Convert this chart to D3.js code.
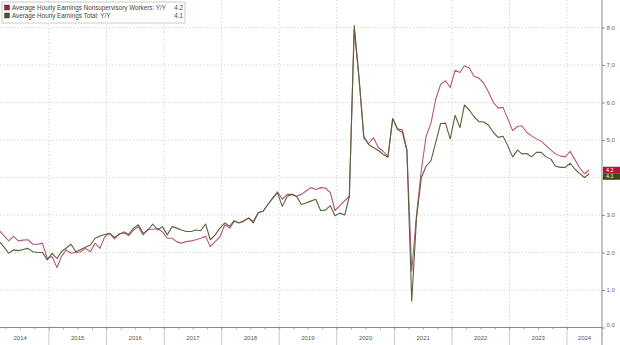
<!DOCTYPE html>
<html>
<head>
<meta charset="utf-8">
<script src="https://cdn.jsdelivr.net/npm/d3@7"></script>
<style>
  body { margin: 0; background: #fff; }
  svg { display: block; }
  text { font-family: "Liberation Sans", Arial, sans-serif; }
</style>
</head>
<body>
<div class="chart"></div>
<script>
// monthly Y/Y %, first value is Feb 2014, last is May 2024
const firstYear = 2014, firstMonth = 1;
const nonsupervisory = [
  2.58, 2.45, 2.31, 2.43, 2.31, 2.33, 2.34, 2.22, 2.22, 2.25, 1.84,
  1.89, 1.60, 1.89, 2.07, 1.98, 2.00, 2.02, 2.11, 2.02, 2.25, 2.11, 2.42,
  2.51, 2.36, 2.50, 2.52, 2.45, 2.60, 2.69, 2.47, 2.62, 2.62, 2.64, 2.55,
  2.38, 2.38, 2.29, 2.25, 2.29, 2.31, 2.34, 2.38, 2.43, 2.16, 2.29, 2.42,
  2.74, 2.65, 2.83, 2.79, 2.83, 2.92, 2.83, 3.06, 3.10, 3.28, 3.44, 3.62,
  3.42, 3.55, 3.55, 3.50, 3.55, 3.64, 3.73, 3.68, 3.73, 3.72, 3.60, 3.12,
  3.25, 3.38, 3.50, 7.95, 6.65, 5.05, 4.90, 5.06, 4.80, 4.70, 4.56, 5.57,
  5.30, 5.27, 4.75, 1.50, 3.00, 4.20, 5.10, 5.45, 6.10, 6.48, 6.58, 6.40,
  6.86, 6.80, 6.98, 6.92, 6.70, 6.65, 6.52, 6.28, 6.00, 5.85, 5.87, 5.57,
  5.25, 5.36, 5.38, 5.20, 5.11, 5.03, 4.97, 4.85, 4.73, 4.63, 4.57, 4.55,
  4.70, 4.47, 4.26, 4.10, 4.20
];
const total = [
  2.29, 2.15, 1.98, 2.07, 2.05, 2.08, 2.11, 2.02, 2.00, 2.00, 1.80,
  1.98, 1.84, 2.02, 2.12, 2.22, 2.02, 2.08, 2.14, 2.20, 2.38, 2.44, 2.48,
  2.51, 2.40, 2.48, 2.55, 2.48, 2.65, 2.74, 2.51, 2.60, 2.76, 2.60, 2.69,
  2.47, 2.69, 2.65, 2.60, 2.56, 2.56, 2.60, 2.58, 2.76, 2.34, 2.47, 2.65,
  2.79, 2.70, 2.85, 2.79, 2.85, 2.92, 2.79, 3.06, 3.10, 3.28, 3.46, 3.59,
  3.23, 3.50, 3.55, 3.50, 3.28, 3.32, 3.37, 3.42, 3.12, 3.13, 3.25, 2.98,
  3.05, 3.00, 3.50, 8.05, 6.70, 5.10, 4.88, 4.80, 4.72, 4.62, 4.54, 5.57,
  5.28, 5.20, 4.72, 0.70, 2.90, 4.00, 4.30, 4.45, 4.95, 5.44, 5.45, 5.03,
  5.66, 5.33, 5.93, 5.80, 5.62, 5.49, 5.48, 5.40, 5.20, 5.07, 5.10, 4.85,
  4.55, 4.73, 4.63, 4.64, 4.55, 4.67, 4.67, 4.55, 4.49, 4.30, 4.27, 4.27,
  4.38, 4.22, 4.11, 4.00, 4.10
];
const seriesNames = [
  'Average Hourly Earnings Nonsupervisory Workers: Y/Y',
  'Average Hourly Earnings Total: Y/Y'
];
const lastLabels = ['4.2', '4.1'];
const yTicks = [0, 1, 2, 3, 4, 5, 6, 7, 8];
const yearLabels = [2014, 2015, 2016, 2017, 2018, 2019, 2020, 2021, 2022, 2023, 2024];

const width = 620, height = 345;
const plotRight = 602, baseY = 327.5;
const red = '#b9567c', green = '#56653a';

const svg = d3.select('.chart')
  .append('svg')
  .attr('width', width)
  .attr('height', height);

const x = d3.scaleTime()
  .domain([new Date(2014, 0, 1), new Date(2024, 0, 1)])
  .range([-8.6, 567]);
const y = d3.scaleLinear()
  .domain([0, baseY / 37.5])
  .range([baseY, 0]);

const dateOf = i => new Date(firstYear, firstMonth + i, 21);

svg.append('defs').append('clipPath').attr('id', 'plot')
  .append('rect').attr('x', 0).attr('y', 0).attr('width', plotRight).attr('height', baseY);

// horizontal grid
svg.append('g')
  .selectAll('line')
  .data(yTicks.filter(d => d > 0))
  .join('line')
  .attr('x1', 0).attr('x2', plotRight)
  .attr('y1', d => y(d)).attr('y2', d => y(d))
  .attr('stroke', '#cdcdcd')
  .attr('stroke-width', 0.8)
  .attr('stroke-dasharray', '1.5,2');

// vertical grid at year starts
const yearStarts = yearLabels.slice(1).map(yr => new Date(yr, 0, 1));
svg.append('g')
  .selectAll('line')
  .data(yearStarts)
  .join('line')
  .attr('x1', d => x(d)).attr('x2', d => x(d))
  .attr('y1', 0).attr('y2', baseY)
  .attr('stroke', '#cdcdcd')
  .attr('stroke-width', 0.8)
  .attr('stroke-dasharray', '1.5,2');

// separators below the axis
svg.append('g')
  .selectAll('line')
  .data(yearStarts)
  .join('line')
  .attr('x1', d => x(d)).attr('x2', d => x(d))
  .attr('y1', baseY).attr('y2', height)
  .attr('stroke', '#bdbdbd')
  .attr('stroke-width', 0.8);

// quarter ticks on the bottom axis
const xAxis = d3.axisBottom(x)
  .ticks(d3.timeMonth.every(3))
  .tickSize(2)
  .tickFormat('');
const xg = svg.append('g')
  .attr('transform', `translate(0,${baseY})`)
  .call(xAxis);
xg.select('.domain').remove();
xg.selectAll('.tick line').attr('stroke', '#888').attr('stroke-width', 0.7);
xg.selectAll('.tick').filter(d => x(d) > plotRight || x(d) < 0).remove();

svg.append('line')
  .attr('x1', 0).attr('x2', plotRight)
  .attr('y1', baseY).attr('y2', baseY)
  .attr('stroke', '#8a8a8a')
  .attr('stroke-width', 1);

// year labels
svg.append('g')
  .selectAll('text')
  .data(yearLabels)
  .join('text')
  .attr('x', d => {
    const a = x(new Date(d, 0, 1));
    const b = Math.min(x(new Date(d + 1, 0, 1)), plotRight);
    return (a + b) / 2;
  })
  .attr('y', 340)
  .attr('text-anchor', 'middle')
  .attr('font-size', '6px')
  .attr('fill', '#555')
  .text(d => d);

// right axis
const yAxis = d3.axisRight(y)
  .tickValues(yTicks)
  .tickSize(2.5)
  .tickPadding(2)
  .tickFormat(d3.format('.1f'));
const yg = svg.append('g')
  .attr('transform', `translate(${plotRight},0)`)
  .call(yAxis);
yg.select('.domain').remove();
yg.selectAll('.tick line').attr('stroke', '#777');
yg.selectAll('.tick text')
  .attr('font-size', '6px')
  .attr('fill', '#666')
  .attr('font-family', '"Liberation Sans", Arial, sans-serif');
yg.selectAll('.tick').filter(d => d === 0).select('text').attr('dy', '-0.1em');

svg.append('line')
  .attr('x1', plotRight).attr('x2', plotRight)
  .attr('y1', 0).attr('y2', height)
  .attr('stroke', '#8a8a8a')
  .attr('stroke-width', 1);

// lines
const line = d3.line()
  .x((d, i) => x(dateOf(i)))
  .y(d => y(d));
const lines = svg.append('g').attr('clip-path', 'url(#plot)');
lines.append('path')
  .datum(nonsupervisory)
  .attr('fill', 'none')
  .attr('stroke', red)
  .attr('stroke-width', 1.1)
  .attr('stroke-linejoin', 'round')
  .attr('d', line);
lines.append('path')
  .datum(total)
  .attr('fill', 'none')
  .attr('stroke', green)
  .attr('stroke-width', 1.1)
  .attr('stroke-linejoin', 'round')
  .attr('d', line);

// last value tags
const tagH = 6.5;
const redTagY = y(nonsupervisory[nonsupervisory.length - 1]) - tagH / 2;
const greenTagY = Math.max(y(total[total.length - 1]) - tagH / 2, redTagY + tagH);
[[greenTagY, '#3b4a1c', lastLabels[1]], [redTagY, '#b0173c', lastLabels[0]]].forEach(([ty, col, lbl]) => {
  svg.append('rect')
    .attr('x', plotRight + 1).attr('y', ty)
    .attr('width', width - plotRight - 1).attr('height', tagH)
    .attr('fill', col);
  svg.append('text')
    .attr('x', plotRight + 4).attr('y', ty + tagH - 1.3)
    .attr('font-size', '5.5px')
    .attr('fill', '#fff')
    .text(lbl);
});

// legend
const legend = svg.append('g');
legend.append('rect')
  .attr('x', 2).attr('y', 2)
  .attr('width', 183).attr('height', 21)
  .attr('fill', '#fff')
  .attr('stroke', '#b5b5b5')
  .attr('stroke-width', 0.7);
const legendColors = ['#b0173c', '#3f5a1e'];
seriesNames.forEach((name, i) => {
  const ly = 5 + i * 8;
  legend.append('rect')
    .attr('x', 4.5).attr('y', ly)
    .attr('width', 5).attr('height', 5)
    .attr('fill', legendColors[i])
    .attr('stroke', '#333')
    .attr('stroke-width', 0.4);
  legend.append('text')
    .attr('x', 12).attr('y', ly + 4.8)
    .attr('font-size', '6.3px')
    .attr('fill', '#444')
    .text(name);
  legend.append('text')
    .attr('x', 183).attr('y', ly + 4.8)
    .attr('text-anchor', 'end')
    .attr('font-size', '6.3px')
    .attr('fill', '#444')
    .text(lastLabels[i]);
});
</script>
</body>
</html>
